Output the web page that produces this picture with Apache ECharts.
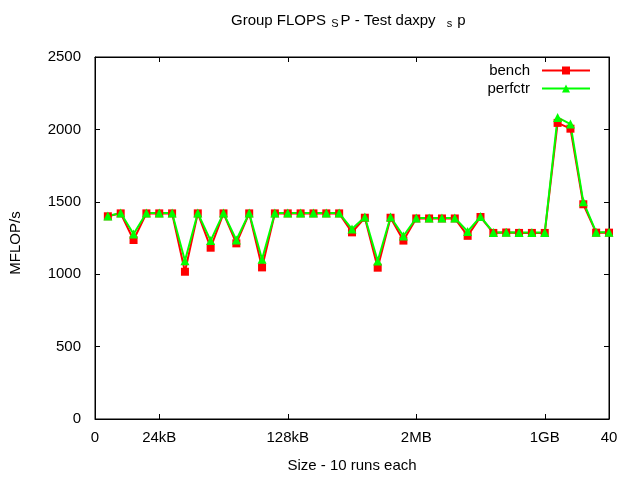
<!DOCTYPE html>
<html><head><meta charset="utf-8">
<script src="https://cdn.jsdelivr.net/npm/echarts@6/dist/echarts.min.js"></script>
<style>html,body{margin:0;padding:0;background:#fff}#c{width:640px;height:480px}</style>
</head><body><div id="c"></div>
<script>
var xs = [1,2,3,4,5,6,7,8,9,10,11,12,13,14,15,16,17,18,19,20,21,22,23,24,25,26,27,28,29,30,31,32,33,34,35,36,37,38,39,40];
var bench = [1400,1420,1236,1420,1420,1420,1017,1420,1183,1420,1213,1420,1047,1420,1420,1420,1420,1420,1420,1289,1390,1045,1390,1232,1385,1385,1385,1385,1265,1395,1285,1288,1285,1285,1285,2045,2005,1483,1287,1287];
var perfctr = [1402,1422,1278,1422,1422,1422,1093,1422,1232,1422,1236,1422,1103,1422,1422,1422,1422,1422,1422,1312,1395,1091,1395,1264,1388,1388,1388,1388,1295,1398,1288,1290,1288,1288,1288,2083,2037,1500,1290,1290];
var xTickVals = [0,5,15,25,35,40];
var xTickLabels = ['0','24kB','128kB','2MB','1GB','40'];
var yTicks = [0,500,1000,1500,2000,2500];

function pairs(v){ return xs.map(function(x,i){ return [x, v[i]]; }); }
var font = 'Liberation Sans, Arial, sans-serif';
var fs = 15;
var chart = echarts.init(document.getElementById('c'));
function axLine(){ return {show:true, onZero:false, lineStyle:{color:'#000', width:1}}; }
chart.setOption({
  animation:false,
  backgroundColor:'#fff',
  title:{
    left:231, top:13, padding:0,
    text:'{a|Group FLOPS }{s|S}{a|P - Test daxpy }{t|s}{a|p}',
    textStyle:{fontWeight:'normal', rich:{
      a:{fontFamily:font, fontSize:fs, fontWeight:'normal', color:'#000', verticalAlign:'top', lineHeight:18},
      s:{fontFamily:font, fontSize:11, fontWeight:'normal', color:'#000', verticalAlign:'top', lineHeight:18, padding:[5,2,0,1]},
      t:{fontFamily:font, fontSize:11, fontWeight:'normal', color:'#000', verticalAlign:'top', lineHeight:18, padding:[5,5,0,7]}
    }}
  },
  legend:{
    orient:'vertical', right:49, top:63, align:'right', padding:0,
    itemWidth:48, itemHeight:10, itemGap:3,
    textStyle:{fontFamily:font, fontSize:fs, color:'#000', padding:[0,7,0,0]},
    data:['bench','perfctr']
  },
  grid:{left:94, right:31, top:57, bottom:61, containLabel:false, show:true, borderColor:'#000', borderWidth:1, backgroundColor:'transparent'},
  xAxis:[{
    type:'value', min:0, max:40, position:'bottom',
    name:'Size - 10 runs each', nameLocation:'middle', nameGap:39,
    nameTextStyle:{fontFamily:font, fontSize:fs, color:'#000'},
    axisLine:axLine(),
    axisTick:{show:true, inside:true, length:5, lineStyle:{color:'#000'}, customValues:[5,15,25,35]},
    axisLabel:{fontFamily:font, fontSize:fs, color:'#000', margin:11, customValues:xTickVals,
      formatter:function(v){ var i = xTickVals.indexOf(v); return i>=0 ? xTickLabels[i] : ''; }},
    splitLine:{show:false}
  },{
    type:'value', min:0, max:40, position:'top', show:true,
    axisLine:axLine(),
    axisTick:{show:true, inside:true, length:5, lineStyle:{color:'#000'}, customValues:[5,15,25,35]},
    axisLabel:{show:false}, splitLine:{show:false}
  }],
  yAxis:[{
    type:'value', min:0, max:2500, interval:500, position:'left',
    name:'MFLOP/s', nameLocation:'middle', nameGap:72, nameRotate:90,
    nameTextStyle:{fontFamily:font, fontSize:fs, color:'#000', padding:[0,10,0,0]},
    axisLine:axLine(),
    axisTick:{show:true, inside:true, length:5, lineStyle:{color:'#000'}, customValues:yTicks.slice(1,5)},
    axisLabel:{fontFamily:font, fontSize:fs, color:'#000', margin:14, formatter:function(v){ return String(v); }},
    splitLine:{show:false}
  },{
    type:'value', min:0, max:2500, interval:500, position:'right', show:true,
    axisLine:axLine(),
    axisTick:{show:true, inside:true, length:5, lineStyle:{color:'#000'}, customValues:yTicks.slice(1,5)},
    axisLabel:{show:false}, splitLine:{show:false}
  }],
  series:[{
    name:'bench', type:'line', data:pairs(bench),
    symbol:'rect', symbolSize:8,
    itemStyle:{color:'#ff0000'}, lineStyle:{color:'#ff0000', width:2}
  },{
    name:'perfctr', type:'line', data:pairs(perfctr),
    symbol:'triangle', symbolSize:9,
    itemStyle:{color:'#00ff00'}, lineStyle:{color:'#00ff00', width:2}
  }]
});
</script></body></html>
